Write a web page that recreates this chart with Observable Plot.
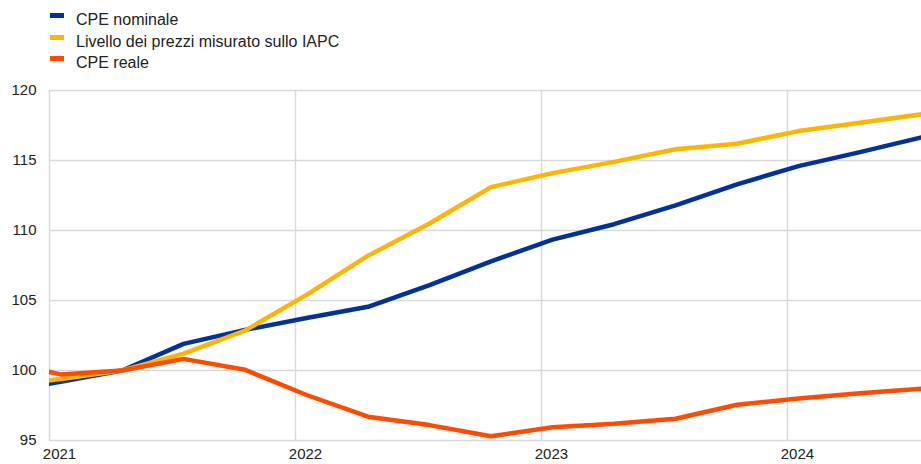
<!DOCTYPE html>
<html>
<head>
<meta charset="utf-8">
<script src="https://cdn.jsdelivr.net/npm/d3@7"></script>
<script src="https://cdn.jsdelivr.net/npm/@observablehq/plot@0.6"></script>
<style>
  html, body { margin: 0; padding: 0; background: #fff; }
  body { width: 921px; height: 464px; overflow: hidden; font-family: "Liberation Sans", Arial, sans-serif; }
  #legend { position: relative; height: 75px; }
  .mk { position: absolute; left: 50px; width: 14px; height: 5px; }
  .lt { position: absolute; left: 76px; font-size: 16px; line-height: 16px; color: #222; white-space: nowrap; }
  svg { display: block; }
</style>
</head>
<body>
<div id="legend"></div>
<div id="chart"></div>
<script>
// Quarterly observations (first one sits just left of the frame and is clipped)
const quarters = ["2020-Q4","2021-Q1","2021-Q2","2021-Q3","2021-Q4","2022-Q1","2022-Q2","2022-Q3","2022-Q4","2023-Q1","2023-Q2","2023-Q3","2023-Q4","2024-Q1","2024-Q2","2024-Q3"];
const nominal = [98.4, 99.2, 100.0, 101.9, 102.9, 103.75, 104.55, 106.1, 107.8, 109.35, 110.45, 111.8, 113.3, 114.6, 115.6, 116.65];
const hicp    = [98.8, 99.4, 100.0, 101.2, 102.85, 105.4, 108.2, 110.5, 113.1, 114.1, 114.9, 115.8, 116.2, 117.1, 117.7, 118.3];
const real    = [100.7, 99.72, 100.0, 100.83, 100.05, 98.25, 96.7, 96.1, 95.3, 95.95, 96.2, 96.55, 97.55, 98.0, 98.38, 98.7];

const seriesNames = ["CPE nominale", "Livello dei prezzi misurato sullo IAPC", "CPE reale"];
const seriesColors = ["#003299", "#ffb400", "#ff4b00"];
const yearTicks = [2021, 2022, 2023, 2024];
const yTicks = [95, 100, 105, 110, 115, 120];

// quarter label -> position in decimal years (mid-January of the quarter's first month)
const qPos = s => { const [y, q] = s.split("-Q"); return +y + (+q - 1) / 4 + 0.045; };

const seriesValues = [nominal, hicp, real];
const rows = [];
seriesValues.forEach((vals, i) => vals.forEach((v, j) => rows.push({series: seriesNames[i], x: qPos(quarters[j]), value: v})));

// legend
const legend = document.getElementById("legend");
seriesNames.forEach((name, i) => {
  const mk = document.createElement("div");
  mk.className = "mk"; mk.style.top = (13 + i * 21.7) + "px"; mk.style.background = seriesColors[i];
  const t = document.createElement("div");
  t.className = "lt"; t.style.top = (12 + i * 21.7) + "px"; t.textContent = name;
  legend.appendChild(mk); legend.appendChild(t);
});

const chart = Plot.plot({
  width: 921,
  height: 389,
  marginTop: 15,
  marginBottom: 24,
  marginLeft: 49,
  marginRight: 0,
  style: {fontFamily: "'Liberation Sans', Arial, sans-serif", fontSize: "15px", color: "#222", background: "#fff"},
  x: {domain: [2021, qPos("2024-Q3")], ticks: yearTicks},
  y: {domain: [95, 120], ticks: yTicks},
  color: {domain: seriesNames, range: seriesColors},
  marks: [
    Plot.gridY(yTicks, {stroke: "#d9d9d9", strokeOpacity: 1, strokeWidth: 1.5}),
    Plot.gridX(yearTicks, {stroke: "#d9d9d9", strokeOpacity: 1, strokeWidth: 1.5}),
    Plot.axisY(yTicks, {tickSize: 0, tickPadding: 13, label: null, fontSize: 15}),
    Plot.axisX(yearTicks, {tickSize: 0, tickPadding: 8, label: null, tickFormat: d => String(d), dx: 10, fontSize: 15}),
    Plot.line(rows, {x: "x", y: "value", z: "series", stroke: "series", strokeWidth: 4.5, clip: true, strokeLinejoin: "round", strokeLinecap: "butt"})
  ]
});
document.getElementById("chart").appendChild(chart);
</script>
</body>
</html>
